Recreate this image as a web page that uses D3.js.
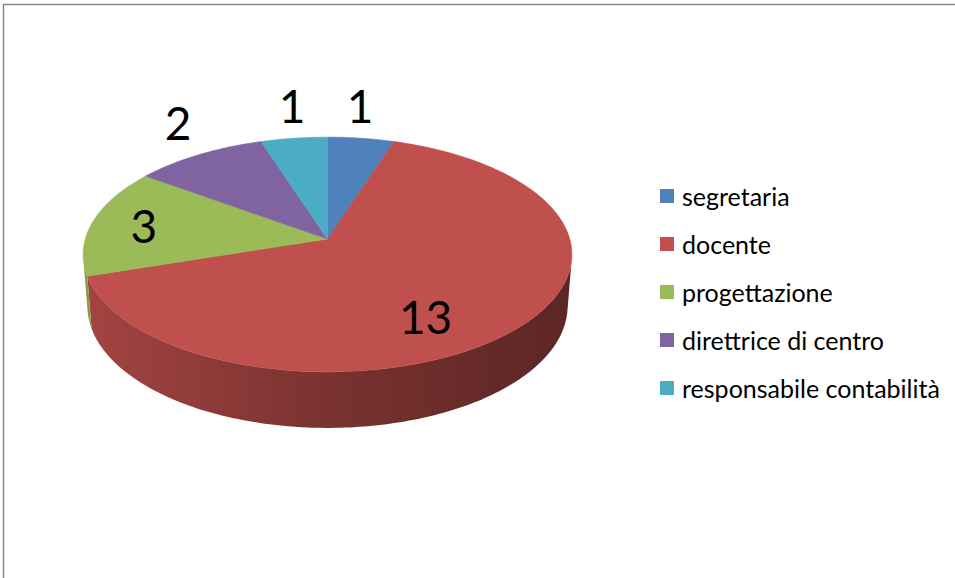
<!DOCTYPE html>
<html>
<head>
<meta charset="utf-8">
<script src="https://cdn.jsdelivr.net/npm/d3@7"></script>
<style>
  html, body { margin: 0; padding: 0; background: #fff; }
  svg { display: block; }
</style>
</head>
<body>
<svg id="chart" width="955" height="578"></svg>
<script>
// Staff roles and head counts
const categories = ["segretaria", "docente", "progettazione", "direttrice di centro", "responsabile contabilità"];
const values = [1, 13, 3, 2, 1];
const colors = ["#4F81BD", "#C0504D", "#9BBB59", "#8064A2", "#4BACC6"];

const svg = d3.select("#chart");

// Chart frame (runs off the right and bottom edges)
svg.append("rect")
  .attr("x", 3.5).attr("y", 4.5)
  .attr("width", 1000).attr("height", 1000)
  .attr("fill", "#fff")
  .attr("stroke", "#868686")
  .attr("stroke-width", 1.5);

// Perspective view of a unit disk with thickness
const cam = {
  cx: 327.5, cy: 239,      // screen position of the disk centre
  f: 1615,                 // focal scale
  sinT: 0.476,             // view elevation
  dist: 6.667,             // camera distance (disk radii)
  thick: 0.244             // disk thickness (disk radii)
};
cam.cosT = Math.sqrt(1 - cam.sinT * cam.sinT);

// theta: clockwise from 12 o'clock; drop: 0 = top face, 1 = bottom rim
function project(theta, r, drop) {
  const X = r * Math.sin(theta);
  const Z = -r * Math.cos(theta);
  const h = drop * cam.thick;
  const depth = cam.dist + h * cam.sinT - Z * cam.cosT;
  return [
    cam.cx + cam.f * X / depth,
    cam.cy + cam.f * (h * cam.cosT + Z * cam.sinT) / depth
  ];
}

const pie = d3.pie().sort(null).value(d => d).startAngle(0).endAngle(2 * Math.PI);
const arcs = pie(values);

function sampleAngles(a0, a1) {
  const n = Math.max(2, Math.ceil(Math.abs(a1 - a0) / (Math.PI / 180)));
  return d3.range(n + 1).map(i => a0 + (a1 - a0) * i / n);
}

const defs = svg.append("defs");
const xLeft = cam.cx - 246, xRight = cam.cx + 246;

// Side wall: visible where the outward normal faces the camera
const visLimit = Math.acos(-1 / (cam.dist * cam.cosT));
const visA = visLimit, visB = 2 * Math.PI - visLimit;

arcs.forEach((d, i) => {
  const a0 = Math.max(d.startAngle, visA);
  const a1 = Math.min(d.endAngle, visB);
  if (a1 <= a0) return;
  const base = d3.rgb(colors[i]);
  const gid = "side-" + i;
  const g = defs.append("linearGradient")
    .attr("id", gid)
    .attr("gradientUnits", "userSpaceOnUse")
    .attr("x1", xLeft).attr("x2", xRight).attr("y1", 0).attr("y2", 0);
  g.append("stop").attr("offset", 0).attr("stop-color", base.darker(0.45));
  g.append("stop").attr("offset", 0.5).attr("stop-color", base.darker(1.3));
  g.append("stop").attr("offset", 1).attr("stop-color", base.darker(2.1));
  const angs = sampleAngles(a0, a1);
  const pts = angs.map(a => project(a, 1, 0))
    .concat(angs.slice().reverse().map(a => project(a, 1, 1)));
  svg.append("path")
    .attr("d", d3.line()(pts) + "Z")
    .attr("fill", "url(#" + gid + ")");
});

// Top faces
arcs.forEach((d, i) => {
  const pts = [project(0, 0, 0)].concat(sampleAngles(d.startAngle, d.endAngle).map(a => project(a, 1, 0)));
  svg.append("path")
    .attr("d", d3.line()(pts) + "Z")
    .attr("fill", colors[i])
    .attr("stroke", colors[i])
    .attr("stroke-width", 0.6);
});

// Value labels: angular nudge (degrees) from the slice middle and radial factor
const labelFont = "Lato, 'Open Sans', sans-serif";
const labelPlacement = [
  { nudge: -2.4, r: 1.38 },
  { nudge: 13.9, r: 0.72 },
  { nudge: 0, r: 0.78 },
  { nudge: 4.7, r: 1.37 },
  { nudge: 1.8, r: 1.38 }
];
const rad = Math.PI / 180;
arcs.forEach((d, i) => {
  const mid = (d.startAngle + d.endAngle) / 2 + labelPlacement[i].nudge * rad;
  const p = project(mid, labelPlacement[i].r, 0);
  svg.append("text")
    .attr("x", p[0]).attr("y", p[1])
    .attr("text-anchor", "middle")
    .attr("dominant-baseline", "central")
    .attr("font-family", labelFont)
    .attr("font-size", 46)
    .attr("fill", "#000")
    .text(d.data);
});

// Legend
const legend = svg.append("g").attr("transform", "translate(660,0)");
const rowY = d3.scalePoint().domain(categories).range([196, 388]);
categories.forEach((c, i) => {
  const y = rowY(c);
  legend.append("rect")
    .attr("x", 0).attr("y", y - 7)
    .attr("width", 14).attr("height", 14)
    .attr("fill", colors[i]);
  legend.append("text")
    .attr("x", 22).attr("y", y)
    .attr("dominant-baseline", "central")
    .attr("font-family", labelFont)
    .attr("font-size", 25)
    .attr("fill", "#000")
    .text(c);
});
</script>
</body>
</html>
